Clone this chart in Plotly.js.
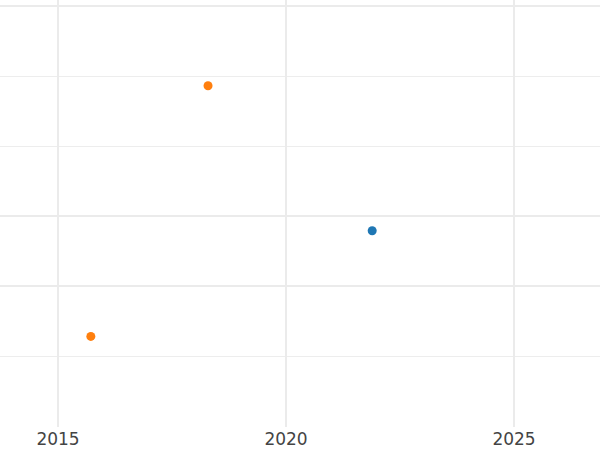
<!DOCTYPE html>
<html>
<head>
<meta charset="utf-8">
<script src="https://cdn.plot.ly/plotly-3.0.1.min.js"></script>
<style>html,body{margin:0;padding:0;background:#fff;}#chart{width:600px;height:450px;}</style>
</head>
<body>
<div id="chart"></div>
<script>
// Data
const orangeX = [2015.72, 2018.29];
const orangeY = [0.28, 3.86];
const blueX = [2021.89];
const blueY = [1.79];
const xTickVals = [2015, 2020, 2025];
const xTickText = ["2015", "2020", "2025"];
const yMajorVals = [1, 2, 5];
const yMinorVals = [0, 3, 4];

const traces = [
  {x: blueX, y: blueY, type: "scatter", mode: "markers", name: "blue",
   marker: {color: "#1f77b4", size: 9}},
  {x: orangeX, y: orangeY, type: "scatter", mode: "markers", name: "orange",
   marker: {color: "#ff7f0e", size: 9}}
];

const layout = {
  width: 600, height: 450,
  margin: {l: 0, r: 0, t: 0, b: 23, pad: 0},
  paper_bgcolor: "#ffffff", plot_bgcolor: "#ffffff",
  showlegend: false,
  font: {family: "DejaVu Sans, sans-serif", color: "#444444"},
  xaxis: {
    range: [2013.728, 2026.886],
    tickmode: "array", tickvals: xTickVals, ticktext: xTickText,
    showgrid: true, gridcolor: "#ebebeb", gridwidth: 2,
    zeroline: false, showline: false, ticks: "",
    tickfont: {size: 17, color: "#444444"}
  },
  yaxis: {
    range: [-1.0143, 5.0857],
    tickmode: "array", tickvals: yMajorVals,
    showticklabels: false,
    showgrid: true, gridcolor: "#ebebeb", gridwidth: 2,
    zeroline: false, showline: false, ticks: "",
    minor: {tickmode: "array", tickvals: yMinorVals, showgrid: true, gridcolor: "#ededed", gridwidth: 1}
  }
};

Plotly.newPlot("chart", traces, layout, {displayModeBar: false, staticPlot: true});
</script>
</body>
</html>
